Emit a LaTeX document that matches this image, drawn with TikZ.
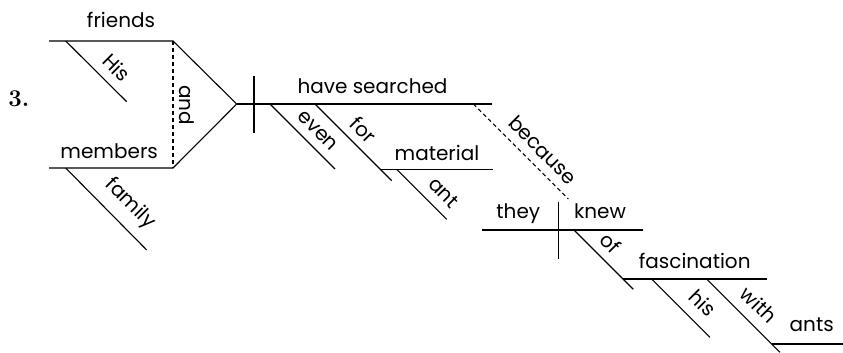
\documentclass[tikz,border=0pt]{standalone}
\usepackage{fontspec}
\setmainfont{Poppins}
\newfontfamily\numfont{Latin Modern Roman}
\begin{document}
\begin{tikzpicture}[x=1pt,y=-1pt,
  ln/.style={line width=1.1pt},
  dl/.style={line width=1.1pt,dash pattern=on 4pt off 3pt},
  wd/.style={font=\fontsize{20}{23}\selectfont,inner sep=0pt,anchor=base},
  rw/.style={font=\fontsize{20}{23}\selectfont,inner sep=0pt,rotate=-45},
  rv/.style={font=\fontsize{20}{23}\selectfont,inner sep=0pt,rotate=-90}]
\useasboundingbox (0,0) rectangle (843,353);
% coordinates
\coordinate (friendsL) at (49,41);
\coordinate (friendsR) at (173,41);
\coordinate (hisA) at (65.7,41);
\coordinate (hisB) at (126.7,101.7);
\coordinate (membersL) at (49,168);
\coordinate (membersR) at (173,168);
\coordinate (famA) at (65.7,168);
\coordinate (famB) at (146.7,250);
\coordinate (apex) at (236.7,104);
\coordinate (mainR) at (491.7,104);
\coordinate (divT) at (254,76);
\coordinate (divB) at (254,133);
\coordinate (evenA) at (270,104);
\coordinate (evenB) at (335,169);
\coordinate (forA) at (315,104);
\coordinate (forB) at (391.7,180.7);
\coordinate (matL) at (380.3,169.3);
\coordinate (matR) at (493.3,169.3);
\coordinate (antA) at (396.7,169.3);
\coordinate (antB) at (446.7,219.3);
\coordinate (becA) at (473.3,104);
\coordinate (becB) at (568.3,199);
\coordinate (knewL) at (482.3,230);
\coordinate (knewR) at (643.3,230);
\coordinate (div2T) at (558.3,201.7);
\coordinate (div2B) at (558.3,259);
\coordinate (ofA) at (574,230);
\coordinate (ofB) at (633.3,289.3);
\coordinate (fascL) at (623,279);
\coordinate (fascR) at (766.7,279);
\coordinate (his2A) at (651.7,279);
\coordinate (his2B) at (710,337.3);
\coordinate (withA) at (706.7,279);
\coordinate (withB) at (780,352.3);
\coordinate (antsL) at (771.7,344);
\coordinate (antsR) at (843,344);
% lines
\draw[ln] (friendsL) -- (friendsR) -- (apex) -- (membersR) -- (membersL);
\draw[ln] (hisA) -- (hisB);
\draw[ln] (famA) -- (famB);
\draw[dl] (friendsR) -- (membersR);
\draw[ln] (apex) -- (mainR);
\draw[ln] (divT) -- (divB);
\draw[ln] (evenA) -- (evenB);
\draw[ln] (forA) -- (forB);
\draw[ln] (matL) -- (matR);
\draw[ln] (antA) -- (antB);
\draw[dl] (becA) -- (becB);
\draw[ln] (knewL) -- (knewR);
\draw[ln] (div2T) -- (div2B);
\draw[ln] (ofA) -- (ofB);
\draw[ln] (fascL) -- (fascR);
\draw[ln] (his2A) -- (his2B);
\draw[ln] (withA) -- (withB);
\draw[ln] (antsL) -- (antsR);
% words
\node[font=\numfont\bfseries\fontsize{24}{26}\selectfont,inner sep=0pt,anchor=base] (num) at (19,106.7) {3.};
\node[wd] (friends) at (121,28) {friends};
\node[wd] (members) at (109.2,158.3) {members};
\node[wd] (have) at (372.5,93.3) {have searched};
\node[wd] (material) at (437,160.7) {material};
\node[wd] (they) at (518.3,218.3) {they};
\node[wd] (knew) at (600,218.3) {knew};
\node[wd] (fasc) at (694.7,268.3) {fascination};
\node[wd] (ants) at (811.7,331.7) {ants};
\node[rw] (His) at (116.7,67.7) {His};
\node[rw] (family) at (130,204) {family};
\node[rv] (and) at (186.7,105) {and};
\node[rw] (even) at (317.5,130.8) {even};
\node[rw] (for) at (363.3,130) {for};
\node[rw] (ant) at (444,192.5) {ant};
\node[rw] (because) at (543,150) {because};
\node[rw] (of) at (611,243) {of};
\node[rw] (his) at (703,303) {his};
\node[rw] (with) at (759,305) {with};
\end{tikzpicture}
\end{document}
